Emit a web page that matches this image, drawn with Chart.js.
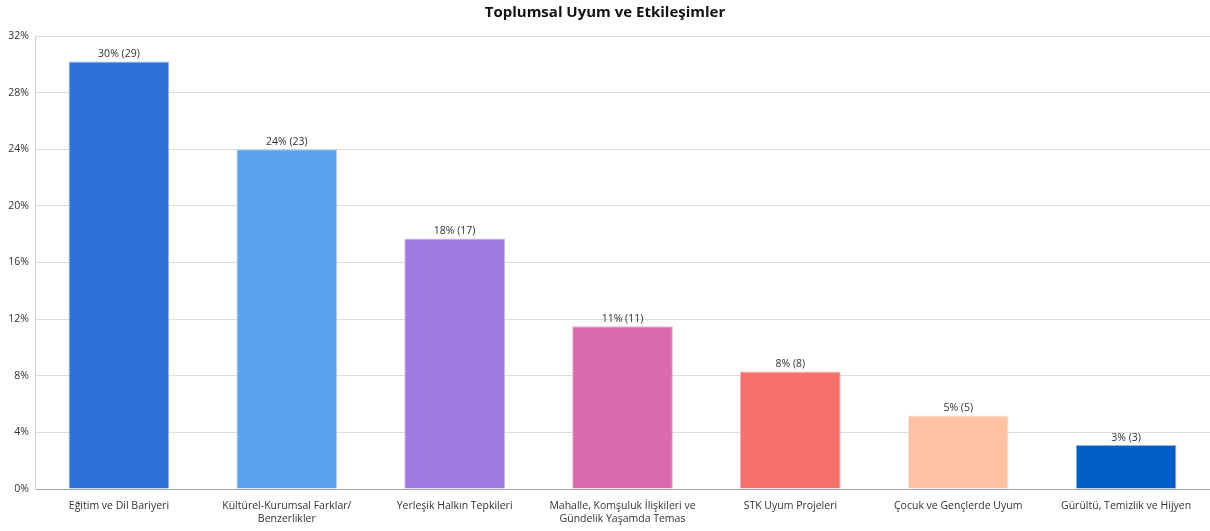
<!DOCTYPE html>
<html>
<head>
<meta charset="utf-8">
<script src="https://cdn.jsdelivr.net/npm/chart.js@4/dist/chart.umd.min.js"></script>
<style>
  html, body { margin: 0; padding: 0; background: #fff; }
  #wrap { width: 1210px; height: 531px; }
</style>
</head>
<body>
<div id="wrap"><canvas id="grafico"></canvas></div>
<script>
const kategoriler = [
  'Eğitim ve Dil Bariyeri',
  ['Kültürel-Kurumsal Farklar/', 'Benzerlikler'],
  'Yerleşik Halkın Tepkileri',
  ['Mahalle, Komşuluk İlişkileri ve', 'Gündelik Yaşamda Temas'],
  'STK Uyum Projeleri',
  'Çocuk ve Gençlerde Uyum',
  'Gürültü, Temizlik ve Hijyen',
];
const yuzdeler = [30.2, 24.0, 17.7, 11.5, 8.3, 5.2, 3.1];
const sayilar  = [29, 23, 17, 11, 8, 5, 3];
const etiketler = ['30%', '24%', '18%', '11%', '8%', '5%', '3%'];
const renkler = ['#2D72D9', '#5AA2EE', '#A078E2', '#DB6BAE', '#F7706C', '#FFC3A3', '#035EC7'];
const kenarlar = ['#9DBDF0', '#A9CDF6', '#CDB6F1', '#EEB2D4', '#FBB5B2', '#FFE0D0', '#8DB3E6'];

const FONT = "'Open Sans', 'Noto Sans', sans-serif";

// etiketleri çubukların üstüne yaz
const degerEtiketi = {
  id: 'degerEtiketi',
  afterDatasetsDraw(chart) {
    const ctx = chart.ctx;
    const meta = chart.getDatasetMeta(0);
    ctx.save();
    ctx.font = `10.5px ${FONT}`;
    ctx.fillStyle = '#333';
    ctx.textAlign = 'center';
    ctx.textBaseline = 'bottom';
    meta.data.forEach((bar, i) => {
      ctx.fillText(`${etiketler[i]} (${sayilar[i]})`, bar.x, bar.y - 2);
    });
    ctx.restore();
  },
};

new Chart(document.getElementById('grafico'), {
  type: 'bar',
  data: {
    labels: kategoriler,
    datasets: [{
      data: yuzdeler,
      backgroundColor: renkler,
      borderColor: kenarlar,
      borderWidth: 1,
      categoryPercentage: 1,
      barPercentage: 0.6,
    }],
  },
  options: {
    responsive: true,
    maintainAspectRatio: false,
    animation: false,
    plugins: {
      legend: { display: false },
      tooltip: { enabled: false },
      title: {
        display: true,
        text: 'Toplumsal Uyum ve Etkileşimler',
        color: '#111',
        font: { family: FONT, size: 15, weight: 'bold' },
        padding: { top: 4, bottom: 14 },
      },
    },
    scales: {
      x: {
        grid: { display: false, drawTicks: false },
        border: { color: '#A6A6A6' },
        ticks: {
          color: '#333',
          font: { family: FONT, size: 10.5 },
          maxRotation: 0,
          autoSkip: false,
          padding: 11,
        },
        afterFit: (s) => { s.height = 42; },
      },
      y: {
        min: 0,
        max: 32,
        grid: { color: '#DCDCDC', drawTicks: false },
        border: { color: '#D0D0D0' },
        ticks: {
          stepSize: 4,
          color: '#333',
          font: { family: FONT, size: 10.5 },
          padding: 6,
          callback: (v) => v + '%',
        },
        afterFit: (s) => { s.width = 35; },
      },
    },
  },
  plugins: [degerEtiketi],
});
</script>
</body>
</html>
